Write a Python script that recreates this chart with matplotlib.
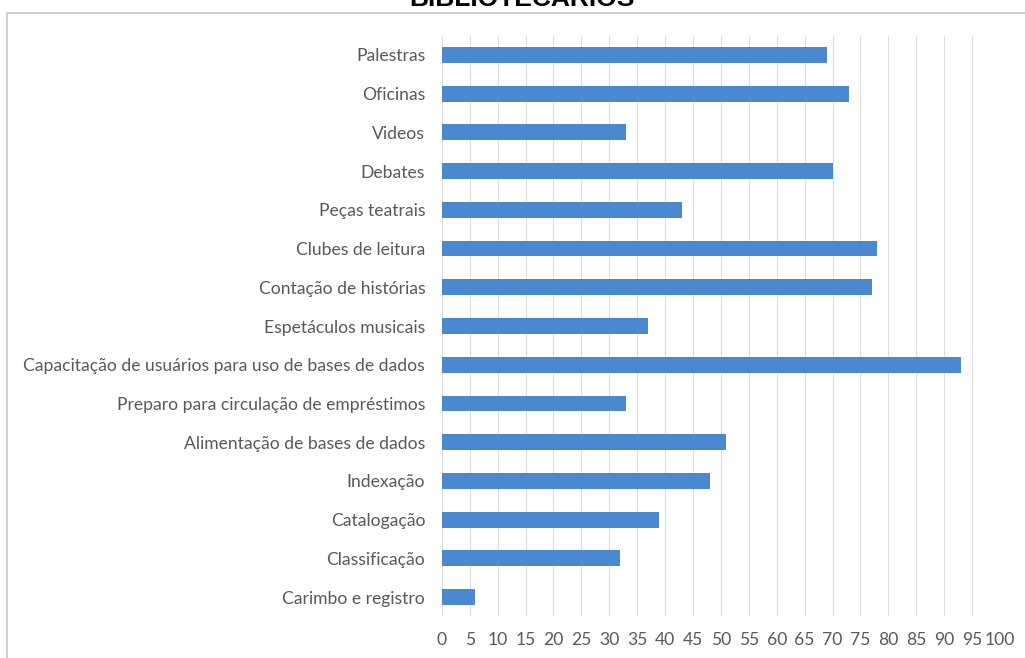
import matplotlib
matplotlib.use("Agg")
import matplotlib.pyplot as plt
from matplotlib.patches import Rectangle

# dados (de cima para baixo)
atividades = [
    "Palestras",
    "Oficinas",
    "Videos",
    "Debates",
    "Peças teatrais",
    "Clubes de leitura",
    "Contação de histórias",
    "Espetáculos musicais",
    "Capacitação de usuários para uso de bases de dados",
    "Preparo para circulação de empréstimos",
    "Alimentação de bases de dados",
    "Indexação",
    "Catalogação",
    "Classificação",
    "Carimbo e registro",
]
valores = [69, 73, 33, 70, 43, 78, 77, 37, 93, 33, 51, 48, 39, 32, 6]
x_ticks = list(range(0, 101, 5))

cor_barra = "#4a89d0"
cor_texto = "#595959"

plt.rcParams["font.family"] = ["Lato", "DejaVu Sans"]

fig = plt.figure(figsize=(10.25, 6.58), dpi=100)
ax = fig.add_axes([441.8 / 1025, 1 - 616.4 / 658, (1000 - 441.8) / 1025, (616.4 - 35.6) / 658])

pos = list(range(len(atividades)))
ax.barh(pos, valores, height=0.41, color=cor_barra, zorder=3)

ax.set_xlim(0, 100)
ax.set_ylim(len(atividades) - 0.5, -0.5)
ax.set_xticks(x_ticks)
ax.set_yticks(pos)
ax.set_yticklabels(atividades)
ax.grid(axis="x", color="#dedede", linewidth=0.8, zorder=0)
ax.tick_params(axis="both", length=0, colors=cor_texto, labelsize=12.6)
ax.tick_params(axis="y", pad=12)
ax.tick_params(axis="x", pad=11)
for s in ax.spines.values():
    s.set_visible(False)

# moldura do gráfico
fig.patches.append(Rectangle((7 / 1025, -0.1), 1.2, 1 - 13 / 658 + 0.1,
                             transform=fig.transFigure, fill=False,
                             edgecolor="#c8c8c8", linewidth=1.2))

# título (cortado no topo, como no original)
fig.text(522 / 1025, 1 - 6 / 658, "BIBLIOTECÁRIOS", ha="center", va="baseline",
         fontsize=19, fontweight="bold", color="black", family="Liberation Sans")

fig.savefig("out.png", dpi=100)
